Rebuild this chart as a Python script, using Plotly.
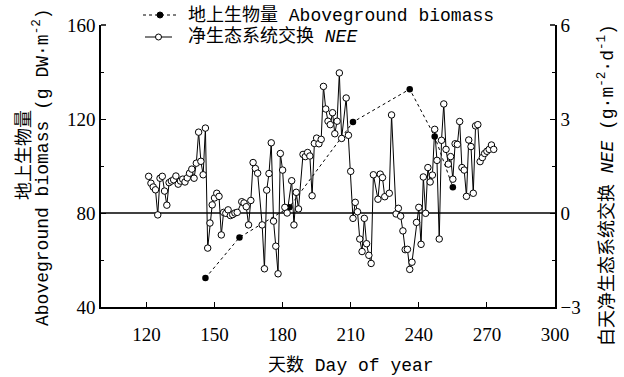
import plotly.graph_objects as go

# Biomass (left axis)
bio_day = [146, 161, 183, 211, 236, 247, 255]
bio_val = [52.3, 69.6, 82.5, 118.7, 132.7, 112.6, 91.0]

# NEE (right axis)
nee_day = [121, 122, 123, 124, 125, 126, 127, 128, 129, 130,
           131, 132, 133, 134, 135, 136, 137, 138, 139, 140,
           141, 142, 143, 144, 145, 146, 147, 148, 149, 150,
           151, 152, 153, 154, 155, 156, 157, 158, 159, 160,
           162, 163, 164, 165, 166, 167, 168, 169, 171, 172,
           173, 174, 175, 176, 177, 178, 179, 180, 181, 182,
           184, 185, 186, 187, 189, 190, 191, 192, 193, 194,
           195, 196, 197, 198, 199, 200, 201, 202, 203, 204,
           205, 206, 208, 209, 210, 211, 212, 213, 214, 215,
           216, 217, 218, 219, 220, 222, 223, 224, 225, 227,
           228, 230, 231, 232, 233, 234, 235, 236, 237, 239,
           240, 241, 242, 243, 244, 245, 246, 247, 248, 249,
           250, 251, 252, 253, 254, 255, 256, 257, 258, 259,
           260, 261, 262, 263, 264, 265, 266, 267, 268, 269,
           270, 271, 272, 273]
nee_val = [1.17, 0.95, 0.83, 0.74, -0.06, 1.11, 1.17, 0.70, 0.25, 0.97,
           1.02, 1.06, 1.18, 0.92, 1.02, 1.08, 0.99, 1.12, 1.27, 1.40,
           1.11, 1.59, 2.58, 1.65, 1.22, 2.71, -1.12, -0.32, 0.26, 0.48,
           0.63, 0.53, -0.70, 0.02, -0.01, 0.10, -0.08, -0.05, 0.00, 0.02,
           0.36, 0.32, 0.20, -0.38, 0.40, 1.61, 1.42, 1.27, -0.38, -1.78,
           0.73, 1.26, 2.24, -0.26, -1.06, -1.94, 1.90, 1.37, 0.18, 0.00,
           1.03, -0.38, 0.66, 0.13, 1.87, 1.80, 1.93, 1.82, 0.55, 2.22,
           2.39, 2.21, 2.35, 4.04, 3.32, 2.93, 2.82, 3.20, 2.53, 2.93,
           4.47, 2.38, 3.67, 2.48, 1.33, -0.17, 0.34, 0.04, -0.83, -1.23,
           -0.17, -0.98, -1.35, -1.61, 1.22, 0.44, 1.24, 1.13, 0.52, 0.63,
           3.13, -0.03, 0.15, -0.10, -0.57, -1.17, -1.16, -1.80, -1.57, -0.30,
           0.18, -1.00, 1.15, -0.01, 1.45, 0.99, 1.21, 2.67, 1.68, -0.83,
           2.32, 3.48, 2.03, 1.56, 1.80, 1.08, 2.21, 2.19, 2.92, 1.45,
           1.37, 0.53, 2.33, 2.12, 0.63, 2.78, 2.82, 1.64, 1.77, 1.90,
           1.97, 2.03, 2.17, 2.03]

x_ticks = [120, 150, 180, 210, 240, 270, 300]
y_ticks = [40, 80, 120, 160]
y2_ticks = [-3, 0, 3, 6]

bio_name = "地上生物量 Aboveground biomass"
nee_name = "净生态系统交换 <i>NEE</i>"

TXT = "Liberation Mono, Noto Sans CJK SC, monospace"
NUM = "Liberation Serif, serif"

# plot area geometry (pixels) used to place the hand-made legend
W, H = 624, 377
ML, MR, MT, MB = 101, 69, 25, 70
PW, PH = W - ML - MR, H - MT - MB


def px(xp):
    return (xp - ML) / PW


def py(yp):
    return (H - MB - yp) / PH


fig = go.Figure()
fig.add_trace(go.Scatter(
    x=nee_day, y=nee_val, yaxis="y2", mode="lines+markers",
    name=nee_name, showlegend=False,
    line=dict(color="black", width=1),
    marker=dict(symbol="circle", size=6.5, color="white",
                line=dict(color="black", width=1))))
fig.add_trace(go.Scatter(
    x=bio_day, y=bio_val, yaxis="y", mode="lines+markers",
    name=bio_name, showlegend=False,
    line=dict(color="black", width=1, dash="dot"),
    marker=dict(symbol="circle", size=6.5, color="black")))

axis_common = dict(showline=True, linecolor="black", linewidth=1.5,
                   ticks="inside", tickcolor="black", tickwidth=1.2,
                   ticklen=5, showgrid=False, zeroline=False,
                   tickfont=dict(family=NUM, size=19, color="black"))

row1, row2 = 15, 37
shapes = [
    dict(type="line", xref="paper", yref="y2", x0=0, x1=1, y0=0, y1=0,
         line=dict(color="black", width=1.5), layer="below"),
    dict(type="line", xref="paper", yref="paper", x0=0, x1=px(106), y0=1, y1=1,
         line=dict(color="black", width=1.5)),
    dict(type="line", xref="paper", yref="paper", x0=px(550), x1=1, y0=1, y1=1,
         line=dict(color="black", width=1.5)),
    # legend symbol 1: dotted line with filled dot
    dict(type="line", xref="paper", yref="paper", x0=px(143), x1=px(177), y0=py(row1), y1=py(row1),
         line=dict(color="black", width=1, dash="dot")),
    dict(type="circle", xref="paper", yref="paper", xsizemode="pixel", ysizemode="pixel",
         xanchor=px(160), yanchor=py(row1), x0=-3, x1=3, y0=-3, y1=3,
         fillcolor="black", line=dict(color="black", width=1)),
    # legend symbol 2: solid line with open circle
    dict(type="line", xref="paper", yref="paper", x0=px(145), x1=px(172), y0=py(row2), y1=py(row2),
         line=dict(color="black", width=1)),
    dict(type="circle", xref="paper", yref="paper", xsizemode="pixel", ysizemode="pixel",
         xanchor=px(158.5), yanchor=py(row2), x0=-3, x1=3, y0=-3, y1=3,
         fillcolor="white", line=dict(color="black", width=1)),
]

fig.update_layout(
    width=W, height=H,
    margin=dict(l=ML, r=MR, t=MT, b=MB),
    paper_bgcolor="white", plot_bgcolor="white",
    showlegend=False,
    xaxis=dict(range=[100, 300], tickvals=x_ticks, ticklabelstandoff=9, **axis_common),
    yaxis=dict(range=[40, 160], tickvals=y_ticks,
               minor=dict(tickvals=[60, 100, 140], ticklen=3, tickcolor="black", ticks="inside"),
               **axis_common),
    yaxis2=dict(range=[-3, 6], tickvals=y2_ticks, overlaying="y", side="right",
                minor=dict(tickvals=[-1.5, 1.5, 4.5], ticklen=3, tickcolor="black", ticks="inside"),
                **axis_common),
    shapes=shapes,
    annotations=[
        dict(text=bio_name, xref="paper", yref="paper", x=px(186), y=py(row1),
             showarrow=False, xanchor="left", yanchor="middle",
             font=dict(family=TXT, size=18, color="black")),
        dict(text=nee_name, xref="paper", yref="paper", x=px(186), y=py(row2),
             showarrow=False, xanchor="left", yanchor="middle",
             font=dict(family=TXT, size=18, color="black")),
        dict(text="地上生物量", xref="paper", yref="paper", x=px(24), y=py(155),
             textangle=-90, showarrow=False, xanchor="center", yanchor="middle",
             font=dict(family=TXT, size=18, color="black")),
        dict(text="Aboveground biomass (g DW·m<sup>-2</sup>)", xref="paper", yref="paper",
             x=px(41), y=py(167), textangle=-90, showarrow=False, xanchor="center", yanchor="middle",
             font=dict(family=TXT, size=18, color="black")),
        dict(text="白天净生态系统交换 <i>NEE</i> (g·m<sup>-2</sup>·d<sup>-1</sup>)", xref="paper", yref="paper",
             x=px(607), y=py(185), textangle=-90, showarrow=False, xanchor="center", yanchor="middle",
             font=dict(family=TXT, size=18, color="black")),
        dict(text="天数 Day of year", xref="paper", yref="paper",
             x=px(351), y=py(365), showarrow=False, xanchor="center", yanchor="middle",
             font=dict(family=TXT, size=18, color="black")),
    ],
)

fig.write_html("out.html")
